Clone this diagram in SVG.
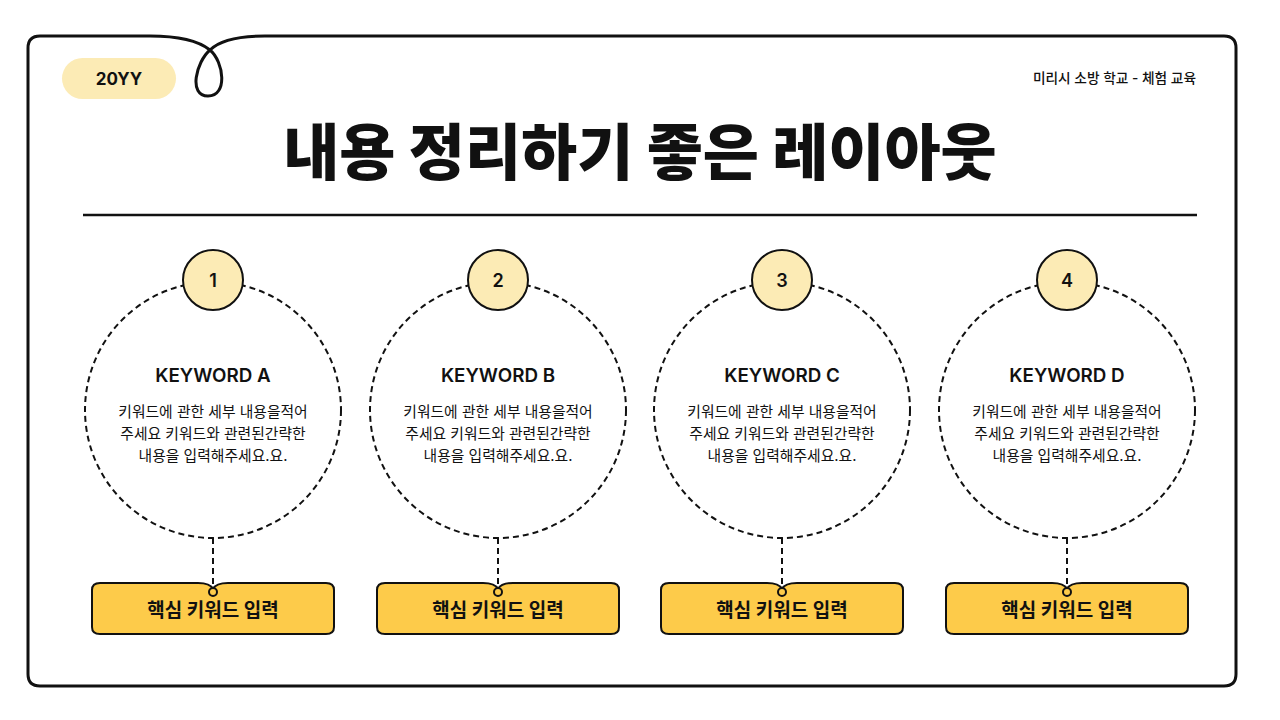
<svg xmlns="http://www.w3.org/2000/svg" width="1280" height="720" viewBox="0 0 1280 720">
<style>
.t{font-family:Inter,"Noto Sans CJK KR",sans-serif;fill:#111}
.num{fill:#FCEBB5;stroke:#111;stroke-width:2}
.ring{fill:none;stroke:#111;stroke-width:2;stroke-dasharray:6 4}
.box{fill:#FDCB4A;stroke:#111;stroke-width:2}
</style>
<rect width="1280" height="720" fill="#fff"/>
<path d="M150 36 H40 Q28 36 28 48 V674 Q28 686 40 686 H1224 Q1236 686 1236 674 V48 Q1236 36 1224 36 H265 C235 36 218 42 210 50 C196 62 188 96 208 96 C228 96 224 62 210 50 C200 42 180 36 150 36 Z" fill="none" stroke="#111" stroke-width="3"/>
<rect x="62" y="58" width="114" height="41" rx="20.5" fill="#FCEBB5"/>
<text class="t" x="119" y="85" font-size="17" font-weight="700" text-anchor="middle">20YY</text>
<text class="t" x="1196" y="83" font-size="13.7" font-weight="500" text-anchor="end">미리시 소방 학교 - 체험 교육</text>
<text class="t" x="640" y="175" font-size="61" font-weight="800" text-anchor="middle">내용 정리하기 좋은 레이아웃</text>
<line x1="83" y1="215" x2="1197" y2="215" stroke="#111" stroke-width="2.5"/>
<g id="connectors">
<line x1="213" y1="538" x2="213" y2="588" class="ring"/>
<line x1="498" y1="538" x2="498" y2="588" class="ring"/>
<line x1="782" y1="538" x2="782" y2="588" class="ring"/>
<line x1="1067" y1="538" x2="1067" y2="588" class="ring"/>
</g>
<defs>
<g id="card">
<circle class="ring" cx="0" cy="410" r="128"/>
<path class="box" d="M-113 583 H-15 Q-3 583 0 589 Q3 583 15 583 H113 Q121 583 121 590 V627 Q121 634 113 634 H-113 Q-121 634 -121 627 V590 Q-121 583 -113 583 Z"/>
<circle cx="0" cy="592" r="4" fill="#FDCB4A" stroke="#111" stroke-width="2"/>
<circle class="num" cx="0" cy="280" r="30"/>
<text class="t" x="0" y="617" font-size="19" font-weight="700" text-anchor="middle">핵심 키워드 입력</text>
<text class="t" font-size="14.8" text-anchor="middle"><tspan x="0" y="417">키워드에 관한 세부 내용을적어</tspan><tspan x="0" y="439">주세요 키워드와 관련된간략한</tspan><tspan x="0" y="461">내용을 입력해주세요.요.</tspan></text>
</g>
</defs>
<g id="node1"><use href="#card" x="213"/><text class="t" x="213" y="287" font-size="18" font-weight="600" text-anchor="middle">1</text><text class="t" x="213" y="382" font-size="18.8" font-weight="600" text-anchor="middle">KEYWORD A</text></g>
<g id="node2"><use href="#card" x="498"/><text class="t" x="498" y="287" font-size="18" font-weight="600" text-anchor="middle">2</text><text class="t" x="498" y="382" font-size="18.8" font-weight="600" text-anchor="middle">KEYWORD B</text></g>
<g id="node3"><use href="#card" x="782"/><text class="t" x="782" y="287" font-size="18" font-weight="600" text-anchor="middle">3</text><text class="t" x="782" y="382" font-size="18.8" font-weight="600" text-anchor="middle">KEYWORD C</text></g>
<g id="node4"><use href="#card" x="1067"/><text class="t" x="1067" y="287" font-size="18" font-weight="600" text-anchor="middle">4</text><text class="t" x="1067" y="382" font-size="18.8" font-weight="600" text-anchor="middle">KEYWORD D</text></g>
</svg>
